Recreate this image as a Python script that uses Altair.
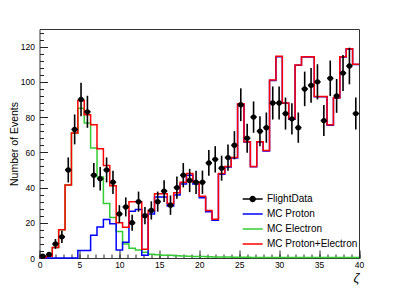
import altair as alt
import pandas as pd

FONT = "Liberation Sans"

# ---- binning (50 bins of width 0.8 between 0 and 40) ----
bin_width = 0.8
n_bins = 50
edges = [round(i * bin_width, 2) for i in range(n_bins + 1)]

# ---- FlightData (counts and their error bars) ----
flight_counts = [1, 2, 8, 12, 50, 73, 90, 83, 47, 45,
                 50, 43, 25, 29, 20, 32, 24, 27, 32, 38,
                 30, 40, 47, 44, 43, 43, 54, 56, 51, 57,
                 64, 87, 68, 80, 72, 74, 88, 88, 82, 79,
                 74, 96, 98, 100, 78, 102, 92, 105, 109, 82]
flight_errors = [1.0, 1.4, 2.8, 3.5, 7.1, 8.5, 9.5, 9.1, 6.9, 6.7,
                 7.1, 6.6, 5.0, 5.4, 4.5, 5.7, 4.9, 5.2, 5.7, 6.2,
                 5.5, 6.3, 6.9, 6.6, 6.6, 6.6, 7.3, 7.5, 7.1, 7.5,
                 8.0, 9.3, 8.2, 8.9, 8.5, 8.6, 9.4, 9.4, 9.1, 8.9,
                 8.6, 9.8, 9.9, 10.0, 8.8, 10.1, 9.6, 10.2, 10.4, 9.1]

# ---- MC histograms ----
mc_electron = [0.3, 1, 6, 16, 41.5, 71, 85, 76.6, 62.5, 46,
               31, 23, 15, 8, 5.5, 4.5, 3.2, 2.1, 1.8, 1.6,
               1.5, 1.3, 1.1, 1.0, 0.9, 0.8, 0.7, 0.6, 0.5, 0.5,
               0.4, 0.4, 0.4, 0.3, 0.3, 0.3, 0.3, 0.3, 0.3, 0.3,
               0.3, 0.3, 0.3, 0.3, 0.3, 0.3, 0.3, 0.3, 0.3, 0.3]
mc_proton = [0, 0, 0, 0, 0, 0, 4.2, 4.2, 12.9, 17.6,
             21.8, 19.5, 4.5, 9, 26.5, 27.5, 1.5, 25, 34.7, 34.7,
             29.5, 35.7, 42, 47, 42, 34.2, 26.3, 21.4, 47.5, 51.6,
             56.7, 87.3, 65.8, 51.8, 65.8, 60.8, 100.8, 114.3, 87.8, 78.8,
             109.4, 114.1, 114.1, 91.5, 91.5, 75.4, 90.8, 114.1, 118.6, 109.8]
mc_sum = [0.3, 1, 6, 16, 41.5, 71, 89.4, 81.3, 75.7, 62,
          52.5, 41, 20, 17.5, 32, 32, 5, 27, 36.5, 36.5,
          31, 37, 43, 48, 43, 35, 27, 22, 48, 52,
          57, 87.5, 66, 52, 66, 61, 101, 114.5, 88, 79,
          109.6, 114.3, 114.3, 91.7, 91.7, 75.6, 91, 114.3, 118.8, 110]

series_names = ["FlightData", "MC Proton", "MC Electron", "MC Proton+Electron"]
series_colors = ["#000000", "#0000ff", "#33cc33", "#ff0000"]

x_major = [0, 5, 10, 15, 20, 25, 30, 35, 40]
x_minor = list(range(0, 41))
y_major = [0, 20, 40, 60, 80, 100, 120]
y_minor = list(range(0, 129, 4))
x_domain = [0, 40]
y_domain = [0, 130]


def hist_frame(name, values):
    rows = [{"zeta": edges[i], "count": values[i], "series": name} for i in range(n_bins)]
    rows.append({"zeta": edges[-1], "count": values[-1], "series": name})
    return pd.DataFrame(rows)


points = pd.DataFrame({
    "zeta": [edges[i] + bin_width / 2 for i in range(n_bins)],
    "lo": edges[:-1],
    "hi": edges[1:],
    "count": flight_counts,
    "low": [max(0, c - e) for c, e in zip(flight_counts, flight_errors)],
    "high": [c + e for c, e in zip(flight_counts, flight_errors)],
    "marker": ["FlightData"] * n_bins,
})

xs = alt.Scale(domain=x_domain, nice=False, zero=False)
ys = alt.Scale(domain=y_domain, nice=False, zero=False)
cs = alt.Scale(domain=series_names, range=series_colors)

LEG_X = 207.2
LEG_Y = 164
ROW_PAD = 4
line_path = "M-2,0H2"
marker_path = "M-2,0H2M0.64,0A0.64,0.64,0,1,1,-0.64,0A0.64,0.64,0,1,1,0.64,0Z"

color_legend = alt.Legend(
    orient="none", legendX=LEG_X, legendY=LEG_Y, title=None,
    symbolType=line_path, symbolSize=100, symbolStrokeWidth=1.5,
    labelFontSize=10, labelFont=FONT, labelColor="#000000",
    rowPadding=ROW_PAD, labelOffset=8.3, padding=0,
)

x_axis_major = alt.Axis(
    values=x_major, orient="bottom", offset=-8, tickSize=8, tickWidth=1,
    tickColor="#222222", domain=False, grid=False, labelPadding=2,
    labelFlush=False, labelOverlap=False, labelFontSize=8.5, labelColor="#000000",
    format="d", title="ζ", titleAnchor="end", titleFontStyle="italic",
    titleFontSize=13, titleFontWeight="normal", titlePadding=3, titleColor="#000000",
)
x_axis_minor = alt.Axis(
    values=x_minor, orient="bottom", offset=-4, tickSize=4, tickWidth=1,
    tickColor="#222222", domain=False, grid=False, labels=False, title=None,
)
y_axis_major = alt.Axis(
    values=y_major, orient="left", offset=-8, tickSize=8, tickWidth=1,
    tickColor="#222222", domain=False, grid=False, labelPadding=5,
    labelFlush=False, labelOverlap=False, labelFontSize=8.5, labelColor="#000000",
    format="d", title="Number of Events", titleFontSize=10.5,
    titleFontWeight="normal", titlePadding=1, titleColor="#000000",
)
y_axis_minor = alt.Axis(
    values=y_minor, orient="left", offset=-4, tickSize=4, tickWidth=1,
    tickColor="#222222", domain=False, grid=False, labels=False, title=None,
)


def hist_layer(name, values, x_axis, y_axis):
    return alt.Chart(hist_frame(name, values)).mark_line(
        interpolate="step-after", strokeWidth=1.5
    ).encode(
        x=alt.X("zeta:Q", scale=xs, axis=x_axis),
        y=alt.Y("count:Q", scale=ys, axis=y_axis),
        color=alt.Color("series:N", scale=cs, legend=color_legend),
    )


green = hist_layer("MC Electron", mc_electron, x_axis_major, y_axis_major)
blue = hist_layer("MC Proton", mc_proton, x_axis_minor, y_axis_minor)
red = hist_layer("MC Proton+Electron", mc_sum, None, None)

base = alt.Chart(points)
vbars = base.mark_rule(color="#000000", strokeWidth=1.6).encode(
    x=alt.X("zeta:Q", scale=xs, axis=None),
    y=alt.Y("low:Q", scale=ys, axis=None),
    y2="high:Q",
)
hbars = base.mark_rule(color="#000000", strokeWidth=1.6).encode(
    x=alt.X("lo:Q", scale=xs, axis=None),
    x2="hi:Q",
    y=alt.Y("count:Q", scale=ys, axis=None),
)
dots = base.mark_point(filled=True, color="#000000", size=28, opacity=1).encode(
    x=alt.X("zeta:Q", scale=xs, axis=None),
    y=alt.Y("count:Q", scale=ys, axis=None),
)

# legend-only layer: gives the FlightData entry its line-with-marker symbol
marker_legend = base.transform_filter("datum.count < 0").mark_point(
    filled=True, color="#000000", opacity=1
).encode(
    x=alt.X("zeta:Q", scale=xs, axis=None),
    y=alt.Y("count:Q", scale=ys, axis=None),
    shape=alt.Shape(
        "marker:N",
        scale=alt.Scale(domain=["FlightData"], range=[marker_path]),
        legend=alt.Legend(
            orient="none", legendX=LEG_X, legendY=LEG_Y, title=None,
            symbolSize=100, symbolFillColor="#000000", symbolStrokeColor="#000000",
            symbolStrokeWidth=1.5, symbolOpacity=1, labelFontSize=10, labelFont=FONT,
            labelOpacity=0, rowPadding=ROW_PAD, labelOffset=8.3, padding=0,
        ),
    ),
)

chart = alt.layer(green, blue, red, vbars, hbars, dots, marker_legend).resolve_axis(
    x="independent", y="independent"
).properties(
    width=319.5, height=229,
    padding={"left": 31.5, "top": 21, "right": 32, "bottom": 30},
    autosize=alt.AutoSizeParams(type="none"),
    background="#ffffff",
).configure_view(
    stroke="#333333", strokeWidth=1
).configure_axis(
    labelFont=FONT, titleFont=FONT
).configure_legend(
    labelFont=FONT
)

chart.save("out.html", embed_options={"renderer": "svg", "actions": False})
